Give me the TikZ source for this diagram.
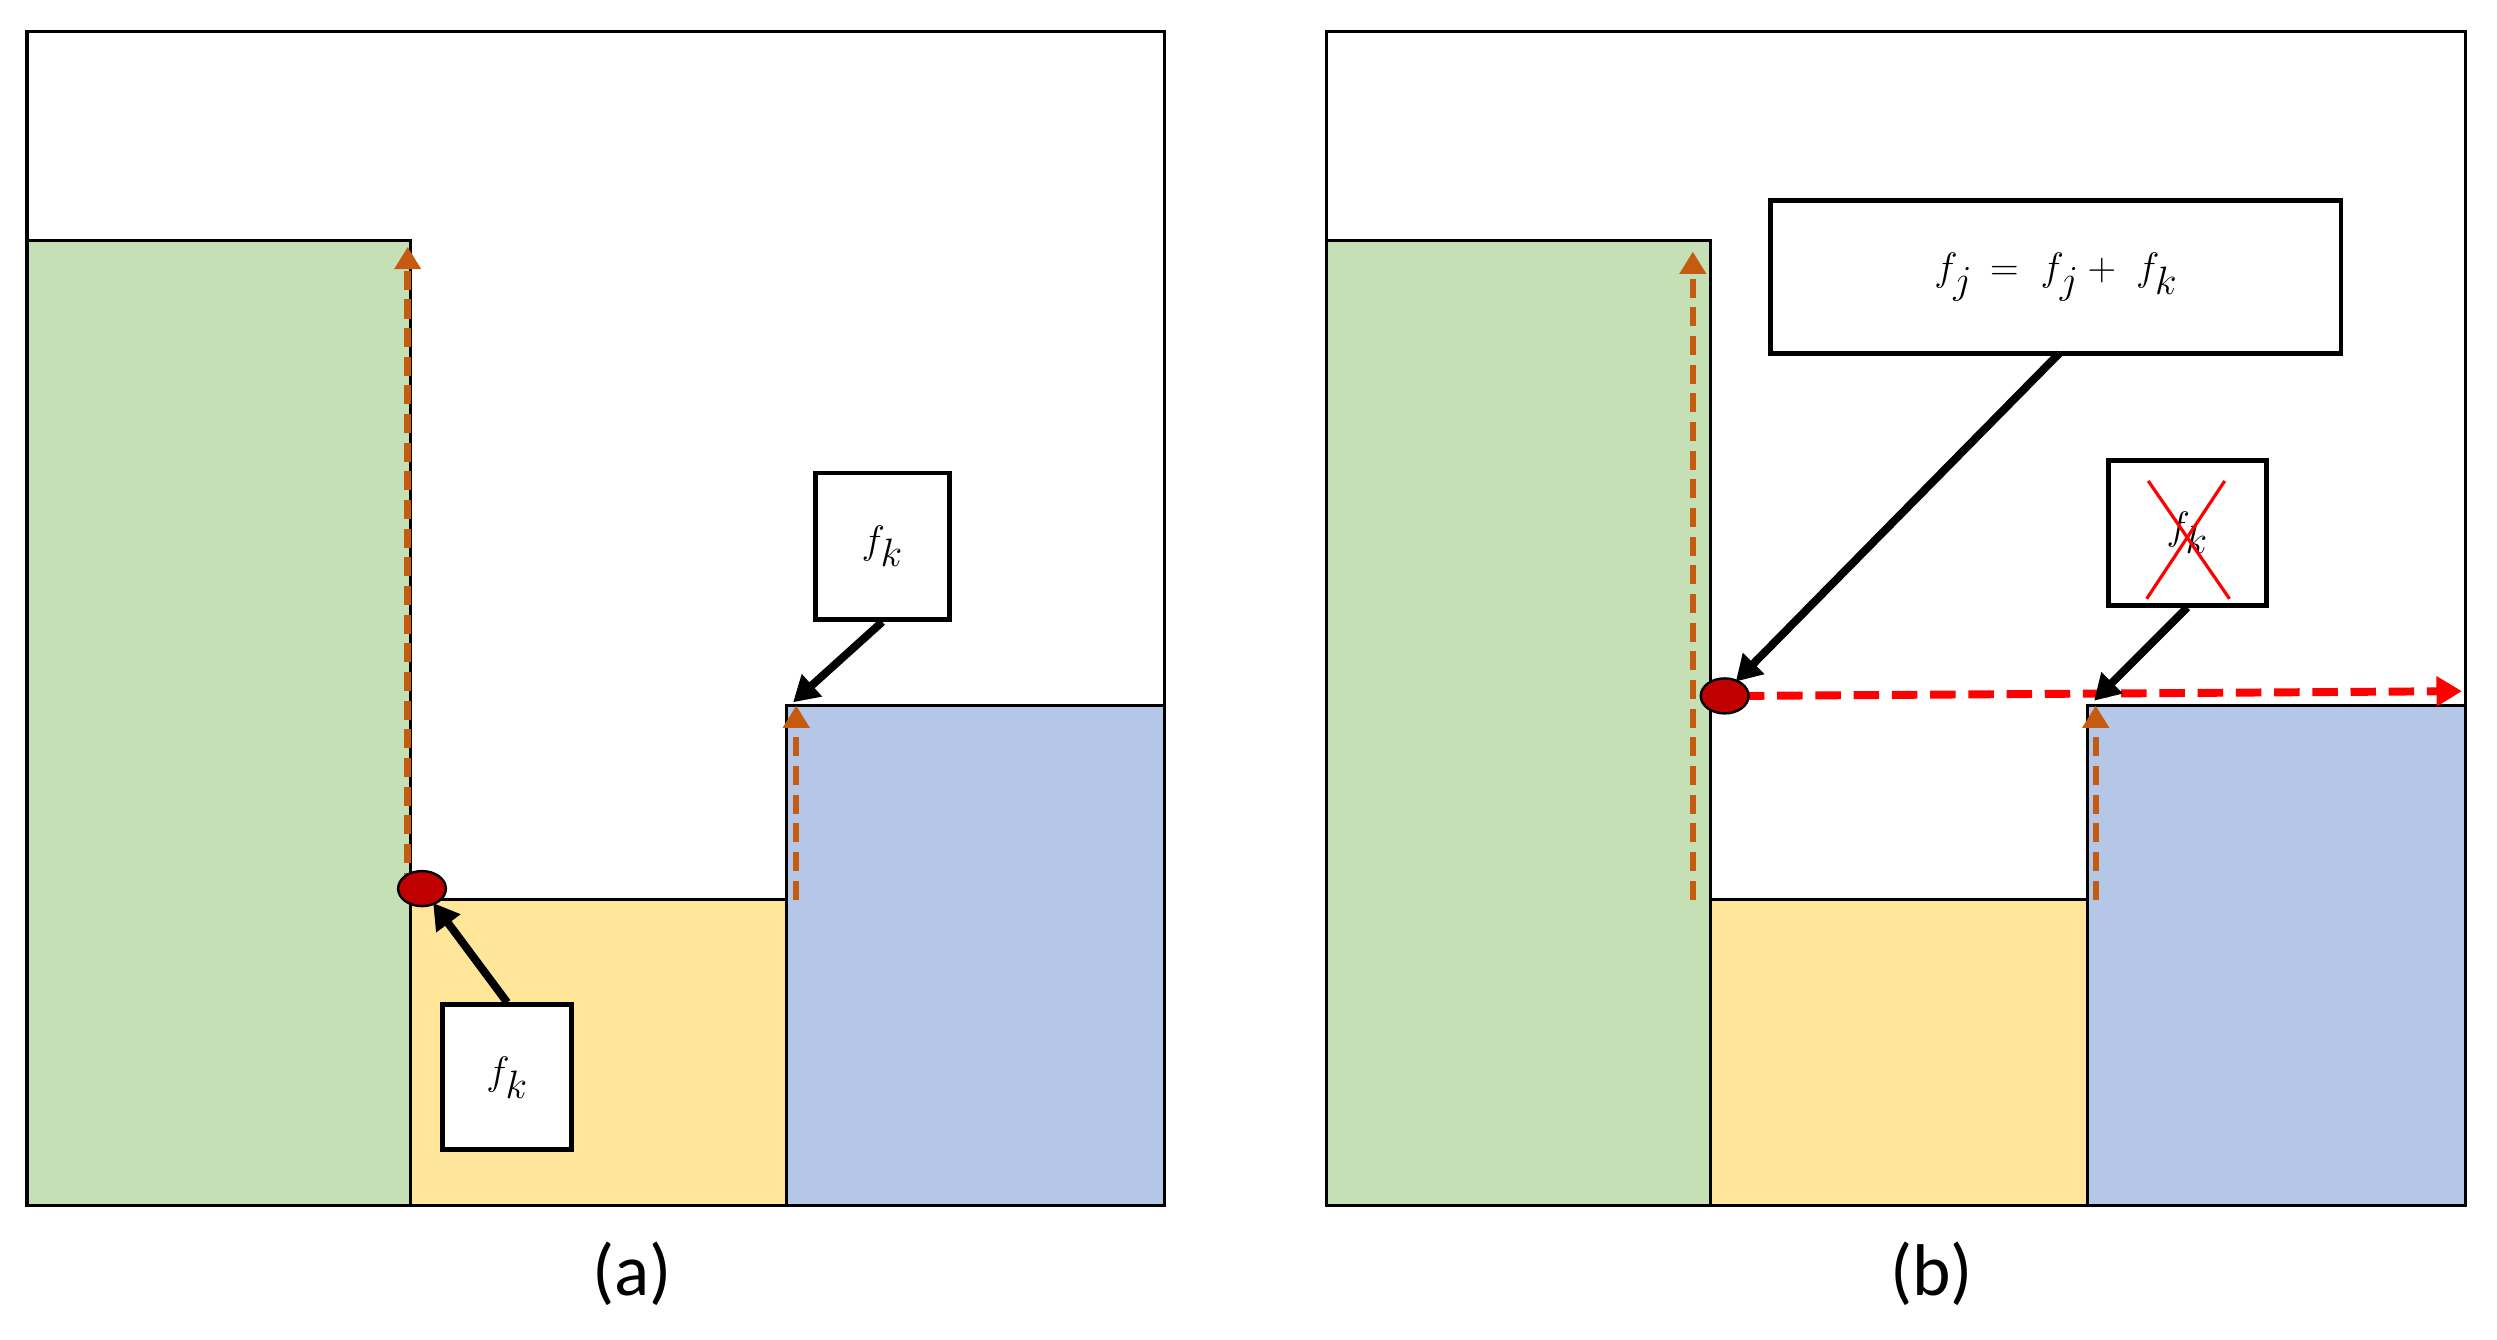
\documentclass[tikz,border=0pt]{standalone}
\usepackage{fontspec}
\setmainfont{Carlito}
\usetikzlibrary{arrows.meta,shapes.geometric}
\definecolor{gr}{HTML}{C5E0B4}
\definecolor{ye}{HTML}{FFE699}
\definecolor{bl}{HTML}{B4C7E7}
\definecolor{og}{HTML}{C55A11}
\definecolor{dr}{HTML}{C00000}
\begin{document}
\begin{tikzpicture}[x=1pt,y=-1pt,
  frame/.style={draw=black,line width=2pt},
  orr/.style={draw=og,line width=4pt,dash pattern=on 12pt off 6pt,-{Triangle[length=14pt,width=16pt]}},
  rdd/.style={draw=red,line width=5pt,dash pattern=on 16pt off 8pt,-{Triangle[length=16pt,width=18pt]}},
  lab/.style={draw=black,line width=3pt,fill=white,inner sep=0pt,font=\fontsize{44}{50}\selectfont},
  blk/.style={draw=black,line width=5pt,-{Triangle[length=16pt,width=18pt]},shorten <=0pt},
  dot/.style={ellipse,draw=black,line width=1.5pt,fill=dr,minimum width=30pt,minimum height=22pt,inner sep=0pt},
  captxt/.style={font=\fontsize{46}{50}\selectfont}]
\useasboundingbox (0,0) rectangle (1568,841);
% panel a
\draw[frame] (17,20) rectangle (731,757);
\filldraw[frame,fill=gr] (17,151) rectangle (258,757);
\filldraw[frame,fill=ye] (258,565) rectangle (494,757);
\filldraw[frame,fill=bl] (494,443) rectangle (731,757);
\coordinate (a1s) at (256,560); \coordinate (a1e) at (256,155);
\coordinate (a2s) at (500,565); \coordinate (a2e) at (500,443);
\draw[orr] (a1s) -- (a1e);
\draw[orr] (a2s) -- (a2e);
\node[dot] (da) at (265,558) {};
\node[lab,minimum width=81pt,minimum height=91pt] (ka) at (318.5,676.5) {$f_k$};
\node[lab,minimum width=84pt,minimum height=92pt] (kb) at (554,343) {$f_k$};
\coordinate (ta) at (272,567);
\coordinate (tb) at (498,441);
\draw[blk] (ka.north) -- (ta);
\draw[blk] (kb.south) -- (tb);
\node[captxt] (ca) at (397,800) {(a)};
% panel b
\draw[frame] (833,20) rectangle (1548,757);
\filldraw[frame,fill=gr] (833,151) rectangle (1074,757);
\filldraw[frame,fill=ye] (1074,565) rectangle (1311,757);
\filldraw[frame,fill=bl] (1311,443) rectangle (1548,757);
\coordinate (b1s) at (1063,565); \coordinate (b1e) at (1063,158);
\coordinate (b2s) at (1316,565); \coordinate (b2e) at (1316,443);
\draw[orr] (b1s) -- (b1e);
\draw[orr] (b2s) -- (b2e);
\coordinate (rs) at (1092,437); \coordinate (re) at (1546,434);
\draw[rdd] (rs) -- (re);
\node[dot] (db) at (1083,437) {};
\node[lab,minimum width=358pt,minimum height=96pt] (eq) at (1291,174) {$f_j\,=\;f_j+\;f_k$};
\node[lab,minimum width=99pt,minimum height=91pt] (kc) at (1373.5,334.5) {$f_k$};
\draw[red,line width=2pt] (1349,302) -- (1400,376);
\draw[red,line width=2pt] (1397,302) -- (1348,376);
\coordinate (tc) at (1090,428);
\coordinate (td) at (1315,440);
\draw[blk] (1293,222) -- (tc);
\draw[blk] (kc.south) -- (td);
\node[captxt] (cb) at (1213,800) {(b)};
\end{tikzpicture}
\end{document}
